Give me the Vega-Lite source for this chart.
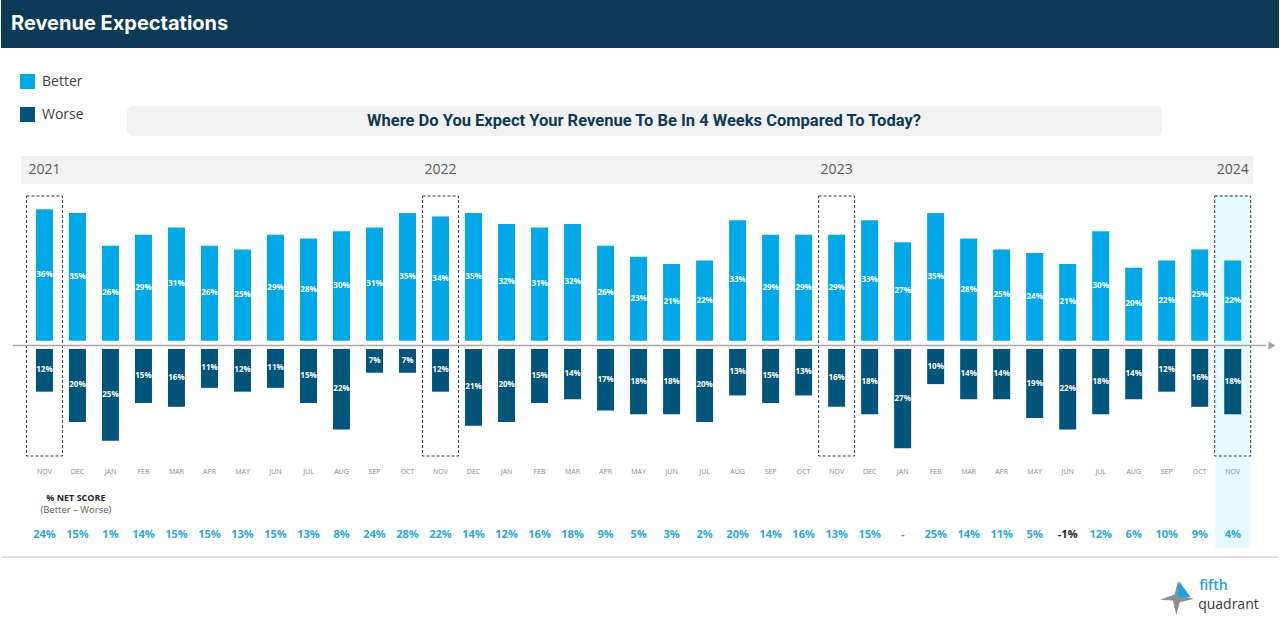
{
"$schema": "https://vega.github.io/schema/vega-lite/v6.json",
"width": 1280,
"height": 622,
"autosize": {"type": "fit", "contains": "padding"},
"padding": 0,
"background": "#ffffff",
"config": {"view": {"stroke": null}, "axis": {"disable": true}, "scale": {"continuousPadding": 0}, "locale": {"number": {"decimal": ".", "thousands": ",", "grouping": [3], "currency": ["$", ""], "minus": "-"}}},
"datasets": {
"one": [{}],
"months": [
{"idx":0,"month":"NOV","year":"2021","better":0.36,"worse":0.12,"net":0.24},
{"idx":1,"month":"DEC","year":"2021","better":0.35,"worse":0.20,"net":0.15},
{"idx":2,"month":"JAN","year":"2022","better":0.26,"worse":0.25,"net":0.01},
{"idx":3,"month":"FEB","year":"2022","better":0.29,"worse":0.15,"net":0.14},
{"idx":4,"month":"MAR","year":"2022","better":0.31,"worse":0.16,"net":0.15},
{"idx":5,"month":"APR","year":"2022","better":0.26,"worse":0.11,"net":0.15},
{"idx":6,"month":"MAY","year":"2022","better":0.25,"worse":0.12,"net":0.13},
{"idx":7,"month":"JUN","year":"2022","better":0.29,"worse":0.11,"net":0.15},
{"idx":8,"month":"JUL","year":"2022","better":0.28,"worse":0.15,"net":0.13},
{"idx":9,"month":"AUG","year":"2022","better":0.30,"worse":0.22,"net":0.08},
{"idx":10,"month":"SEP","year":"2022","better":0.31,"worse":0.07,"net":0.24},
{"idx":11,"month":"OCT","year":"2022","better":0.35,"worse":0.07,"net":0.28},
{"idx":12,"month":"NOV","year":"2022","better":0.34,"worse":0.12,"net":0.22},
{"idx":13,"month":"DEC","year":"2022","better":0.35,"worse":0.21,"net":0.14},
{"idx":14,"month":"JAN","year":"2023","better":0.32,"worse":0.20,"net":0.12},
{"idx":15,"month":"FEB","year":"2023","better":0.31,"worse":0.15,"net":0.16},
{"idx":16,"month":"MAR","year":"2023","better":0.32,"worse":0.14,"net":0.18},
{"idx":17,"month":"APR","year":"2023","better":0.26,"worse":0.17,"net":0.09},
{"idx":18,"month":"MAY","year":"2023","better":0.23,"worse":0.18,"net":0.05},
{"idx":19,"month":"JUN","year":"2023","better":0.21,"worse":0.18,"net":0.03},
{"idx":20,"month":"JUL","year":"2023","better":0.22,"worse":0.20,"net":0.02},
{"idx":21,"month":"AUG","year":"2023","better":0.33,"worse":0.13,"net":0.20},
{"idx":22,"month":"SEP","year":"2023","better":0.29,"worse":0.15,"net":0.14},
{"idx":23,"month":"OCT","year":"2023","better":0.29,"worse":0.13,"net":0.16},
{"idx":24,"month":"NOV","year":"2023","better":0.29,"worse":0.16,"net":0.13},
{"idx":25,"month":"DEC","year":"2023","better":0.33,"worse":0.18,"net":0.15},
{"idx":26,"month":"JAN","year":"2024","better":0.27,"worse":0.27,"net":0.0},
{"idx":27,"month":"FEB","year":"2024","better":0.35,"worse":0.10,"net":0.25},
{"idx":28,"month":"MAR","year":"2024","better":0.28,"worse":0.14,"net":0.14},
{"idx":29,"month":"APR","year":"2024","better":0.25,"worse":0.14,"net":0.11},
{"idx":30,"month":"MAY","year":"2024","better":0.24,"worse":0.19,"net":0.05},
{"idx":31,"month":"JUN","year":"2024","better":0.21,"worse":0.22,"net":-0.01},
{"idx":32,"month":"JUL","year":"2024","better":0.30,"worse":0.18,"net":0.12},
{"idx":33,"month":"AUG","year":"2024","better":0.20,"worse":0.14,"net":0.06},
{"idx":34,"month":"SEP","year":"2024","better":0.22,"worse":0.12,"net":0.10},
{"idx":35,"month":"OCT","year":"2024","better":0.25,"worse":0.16,"net":0.09},
{"idx":36,"month":"NOV","year":"2024","better":0.22,"worse":0.18,"net":0.04}
]
},
"resolve": {"scale": {"y": "independent"}},
"layer": [
{
"layer": [
{"data": {"name": "one"}, "mark": {"type": "rect", "color": "#0d3a57"},
 "encoding": {"x": {"datum": -1.3158, "type": "quantitative", "scale": {"domain": [-1.3158, 37.4017], "nice": false, "zero": false, "padding": 0}}, "x2": {"datum": 37.4017},
  "y": {"datum": 0.93342, "type": "quantitative", "scale": {"domain": [-0.77068, 0.93342], "nice": false, "zero": false, "padding": 0}}, "y2": {"datum": 0.80192}}},
{"data": {"name": "one"}, "mark": {"type": "text", "text": "Revenue Expectations", "align": "left", "baseline": "middle", "font": "Inter", "fontSize": 20, "fontWeight": "bold", "color": "#ffffff"},
 "encoding": {"x": {"datum": -1.0133, "type": "quantitative", "scale": {"domain": [-1.3158, 37.4017], "nice": false, "zero": false, "padding": 0}},
  "y": {"datum": 0.86767, "type": "quantitative", "scale": {"domain": [-0.77068, 0.93342], "nice": false, "zero": false, "padding": 0}}}},
{"data": {"name": "one"}, "mark": {"type": "rect", "color": "#f1f1f1", "cornerRadius": 6},
 "encoding": {"x": {"datum": 2.4955, "type": "quantitative", "scale": {"domain": [-1.3158, 37.4017], "nice": false, "zero": false, "padding": 0}}, "x2": {"datum": 33.8627},
  "y": {"datum": 0.64301, "type": "quantitative", "scale": {"domain": [-0.77068, 0.93342], "nice": false, "zero": false, "padding": 0}}, "y2": {"datum": 0.56082}}},
{"data": {"name": "one"}, "mark": {"type": "text", "text": "Where Do You Expect Your Revenue To Be In 4 Weeks Compared To Today?", "align": "center", "baseline": "middle", "font": "Roboto", "fontSize": 16.5, "fontWeight": "bold", "color": "#0d3a57"},
 "encoding": {"x": {"datum": 18.164, "type": "quantitative", "scale": {"domain": [-1.3158, 37.4017], "nice": false, "zero": false, "padding": 0}},
  "y": {"datum": 0.60192, "type": "quantitative", "scale": {"domain": [-0.77068, 0.93342], "nice": false, "zero": false, "padding": 0}}}},
{"data": {"name": "one"}, "mark": {"type": "rect", "color": "#f1f1f1"},
 "encoding": {"x": {"datum": -0.7108, "type": "quantitative", "scale": {"domain": [-1.3158, 37.4017], "nice": false, "zero": false, "padding": 0}}, "x2": {"datum": 36.6155},
  "y": {"datum": 0.50603, "type": "quantitative", "scale": {"domain": [-0.77068, 0.93342], "nice": false, "zero": false, "padding": 0}}, "y2": {"datum": 0.42932}}},
{"data": {"name": "months"}, "transform": [{"filter": "datum.month === 'NOV'"}],
 "mark": {"type": "text", "align": "center", "baseline": "middle", "font": "Open Sans", "fontSize": 14, "color": "#595959"},
 "encoding": {"x": {"field": "idx", "type": "quantitative", "scale": {"domain": [-1.3158, 37.4017], "nice": false, "zero": false, "padding": 0}},
  "y": {"datum": 0.46767, "type": "quantitative", "scale": {"domain": [-0.77068, 0.93342], "nice": false, "zero": false, "padding": 0}},
  "text": {"field": "year", "type": "nominal"}}},
{"data": {"name": "months"}, "transform": [{"filter": "datum.idx === 36"}],
 "mark": {"type": "bar", "width": 35, "color": "#e5fbff"},
 "encoding": {"x": {"field": "idx", "type": "quantitative", "scale": {"domain": [-1.3158, 37.4017], "nice": false, "zero": false, "padding": 0}},
  "y": {"datum": 0.39918, "type": "quantitative", "scale": {"domain": [-0.77068, 0.93342], "nice": false, "zero": false, "padding": 0}}, "y2": {"datum": -0.56795}}},
{"data": {"name": "months"}, "transform": [{"filter": "datum.month === 'NOV'"}],
 "mark": {"type": "bar", "width": 36, "fill": "transparent", "stroke": "#2b3b48", "strokeWidth": 1, "strokeDash": [3, 2]},
 "encoding": {"x": {"field": "idx", "type": "quantitative", "scale": {"domain": [-1.3158, 37.4017], "nice": false, "zero": false, "padding": 0}},
  "y": {"datum": 0.39644, "type": "quantitative", "scale": {"domain": [-0.77068, 0.93342], "nice": false, "zero": false, "padding": 0}}, "y2": {"datum": -0.31589}}},
{"data": {"name": "months"},
 "mark": {"type": "bar", "width": 17},
 "encoding": {"x": {"field": "idx", "type": "quantitative", "scale": {"domain": [-1.3158, 37.4017], "nice": false, "zero": false, "padding": 0}},
  "y": {"field": "better", "type": "quantitative", "scale": {"domain": [-0.77068, 0.93342], "nice": false, "zero": false, "padding": 0}}, "y2": {"datum": 0},
  "color": {"datum": "Better", "type": "nominal", "scale": {"domain": ["Better", "Worse"], "range": ["#00a8e8", "#02557a"]},
   "legend": {"title": null, "orient": "none", "legendX": 19, "legendY": 74, "symbolType": "square", "symbolSize": 225, "symbolStrokeWidth": 0, "symbolOpacity": 1, "labelFont": "Open Sans", "labelFontSize": 14, "labelColor": "#404040", "rowPadding": 18, "labelOffset": 7}}}},
{"data": {"name": "one"}, "mark": {"type": "rule", "color": "#a6a6a6", "strokeWidth": 1.5},
 "encoding": {"x": {"datum": -0.9528, "type": "quantitative", "scale": {"domain": [-1.3158, 37.4017], "nice": false, "zero": false, "padding": 0}}, "x2": {"datum": 37.0},
  "y": {"datum": -0.01315, "type": "quantitative", "scale": {"domain": [-0.77068, 0.93342], "nice": false, "zero": false, "padding": 0}}}},
{"data": {"name": "one"}, "mark": {"type": "point", "shape": "triangle-right", "size": 70, "filled": true, "color": "#a6a6a6", "opacity": 1},
 "encoding": {"x": {"datum": 37.19, "type": "quantitative", "scale": {"domain": [-1.3158, 37.4017], "nice": false, "zero": false, "padding": 0}},
  "y": {"datum": -0.01315, "type": "quantitative", "scale": {"domain": [-0.77068, 0.93342], "nice": false, "zero": false, "padding": 0}}}},
{"data": {"name": "months"},
 "mark": {"type": "text", "align": "center", "baseline": "middle", "font": "Open Sans", "fontSize": 7, "color": "#8a8a8a"},
 "encoding": {"x": {"field": "idx", "type": "quantitative", "scale": {"domain": [-1.3158, 37.4017], "nice": false, "zero": false, "padding": 0}},
  "y": {"datum": -0.35973, "type": "quantitative", "scale": {"domain": [-0.77068, 0.93342], "nice": false, "zero": false, "padding": 0}},
  "text": {"field": "month", "type": "nominal"}}},
{"data": {"name": "one"}, "mark": {"type": "text", "text": "% NET SCORE", "align": "center", "baseline": "middle", "font": "Open Sans", "fontSize": 9, "fontWeight": "bold", "color": "#262626"},
 "encoding": {"x": {"datum": 0.9528, "type": "quantitative", "scale": {"domain": [-1.3158, 37.4017], "nice": false, "zero": false, "padding": 0}},
  "y": {"datum": -0.43096, "type": "quantitative", "scale": {"domain": [-0.77068, 0.93342], "nice": false, "zero": false, "padding": 0}}}},
{"data": {"name": "one"}, "mark": {"type": "text", "text": "(Better – Worse)", "align": "center", "baseline": "middle", "font": "Open Sans", "fontSize": 9.5, "color": "#595959"},
 "encoding": {"x": {"datum": 0.9528, "type": "quantitative", "scale": {"domain": [-1.3158, 37.4017], "nice": false, "zero": false, "padding": 0}},
  "y": {"datum": -0.46384, "type": "quantitative", "scale": {"domain": [-0.77068, 0.93342], "nice": false, "zero": false, "padding": 0}}}},
{"data": {"name": "months"},
 "mark": {"type": "text", "align": "center", "baseline": "middle", "font": "Open Sans", "fontSize": 11, "fontWeight": "bold"},
 "encoding": {"x": {"field": "idx", "type": "quantitative", "scale": {"domain": [-1.3158, 37.4017], "nice": false, "zero": false, "padding": 0}},
  "y": {"datum": -0.53233, "type": "quantitative", "scale": {"domain": [-0.77068, 0.93342], "nice": false, "zero": false, "padding": 0}},
  "text": {"condition": {"test": "datum.net === 0", "value": "-"}, "field": "net", "type": "quantitative", "format": ".0%"},
  "color": {"condition": {"test": "datum.net < 0", "value": "#1e1e1e"}, "value": "#29a8dc"}}},
{"data": {"name": "one"}, "mark": {"type": "rule", "color": "#d4d4d4", "strokeWidth": 1.5},
 "encoding": {"x": {"datum": -1.3158, "type": "quantitative", "scale": {"domain": [-1.3158, 37.4017], "nice": false, "zero": false, "padding": 0}}, "x2": {"datum": 37.4017},
  "y": {"datum": -0.5926, "type": "quantitative", "scale": {"domain": [-0.77068, 0.93342], "nice": false, "zero": false, "padding": 0}}}},
{"data": {"name": "one"}, "mark": {"type": "point", "shape": "M-1,0.1L-0.15,-0.2L0.05,-1L0.25,-0.1L1,0.05L0.15,0.25L-0.05,1L-0.25,0.15Z", "size": 1156, "filled": true, "color": "#8a8d91", "opacity": 1},
 "encoding": {"x": {"datum": 34.316, "type": "quantitative", "scale": {"domain": [-1.3158, 37.4017], "nice": false, "zero": false, "padding": 0}},
  "y": {"datum": -0.70493, "type": "quantitative", "scale": {"domain": [-0.77068, 0.93342], "nice": false, "zero": false, "padding": 0}}}},
{"data": {"name": "one"}, "mark": {"type": "point", "shape": "M0.1,-1L0.8,-0.05L0.05,-0.05Z", "size": 1156, "filled": true, "color": "#1aa3dc", "opacity": 1},
 "encoding": {"x": {"datum": 34.316, "type": "quantitative", "scale": {"domain": [-1.3158, 37.4017], "nice": false, "zero": false, "padding": 0}},
  "y": {"datum": -0.70493, "type": "quantitative", "scale": {"domain": [-0.77068, 0.93342], "nice": false, "zero": false, "padding": 0}}}},
{"data": {"name": "one"}, "mark": {"type": "text", "text": "fifth", "align": "left", "baseline": "middle", "font": "Open Sans", "fontSize": 14, "fontWeight": 600, "color": "#1aa3dc"},
 "encoding": {"x": {"datum": 34.982, "type": "quantitative", "scale": {"domain": [-1.3158, 37.4017], "nice": false, "zero": false, "padding": 0}},
  "y": {"datum": -0.67205, "type": "quantitative", "scale": {"domain": [-0.77068, 0.93342], "nice": false, "zero": false, "padding": 0}}}},
{"data": {"name": "one"}, "mark": {"type": "text", "text": "quadrant", "align": "left", "baseline": "middle", "font": "Open Sans", "fontSize": 14, "color": "#3a3a3a"},
 "encoding": {"x": {"datum": 34.952, "type": "quantitative", "scale": {"domain": [-1.3158, 37.4017], "nice": false, "zero": false, "padding": 0}},
  "y": {"datum": -0.72411, "type": "quantitative", "scale": {"domain": [-0.77068, 0.93342], "nice": false, "zero": false, "padding": 0}}}}
]
},
{"data": {"name": "months"},
 "mark": {"type": "bar", "width": 17},
 "encoding": {"x": {"field": "idx", "type": "quantitative", "scale": {"domain": [-1.3158, 37.4017], "nice": false, "zero": false, "padding": 0}},
  "y": {"field": "worse", "type": "quantitative", "scale": {"domain": [-0.91614, 0.72937], "reverse": true, "nice": false, "zero": false, "padding": 0}}, "y2": {"datum": 0.00714},
  "color": {"datum": "Worse", "type": "nominal", "scale": {"domain": ["Better", "Worse"], "range": ["#00a8e8", "#02557a"]},
   "legend": {"title": null, "orient": "none", "legendX": 19, "legendY": 74, "symbolType": "square", "symbolSize": 225, "symbolStrokeWidth": 0, "symbolOpacity": 1, "labelFont": "Open Sans", "labelFontSize": 14, "labelColor": "#404040", "rowPadding": 18, "labelOffset": 7}}}},
{"data": {"name": "months"},
 "mark": {"type": "text", "align": "center", "baseline": "middle", "font": "Open Sans", "fontSize": 8, "fontWeight": "bold", "color": "#ffffff"},
 "encoding": {"x": {"field": "idx", "type": "quantitative", "scale": {"domain": [-1.3158, 37.4017], "nice": false, "zero": false, "padding": 0}},
  "y": {"field": "better", "type": "quantitative", "scale": {"domain": [-1.54137, 1.86685], "nice": false, "zero": false, "padding": 0}},
  "text": {"field": "better", "type": "quantitative", "format": ".0%"}}},
{"data": {"name": "months"},
 "mark": {"type": "text", "align": "center", "baseline": "middle", "font": "Open Sans", "fontSize": 8, "fontWeight": "bold", "color": "#ffffff"},
 "encoding": {"x": {"field": "idx", "type": "quantitative", "scale": {"domain": [-1.3158, 37.4017], "nice": false, "zero": false, "padding": 0}},
  "y": {"field": "worse", "type": "quantitative", "scale": {"domain": [-1.83942, 1.45159], "reverse": true, "nice": false, "zero": false, "padding": 0}},
  "text": {"field": "worse", "type": "quantitative", "format": ".0%"}}}
]
}
